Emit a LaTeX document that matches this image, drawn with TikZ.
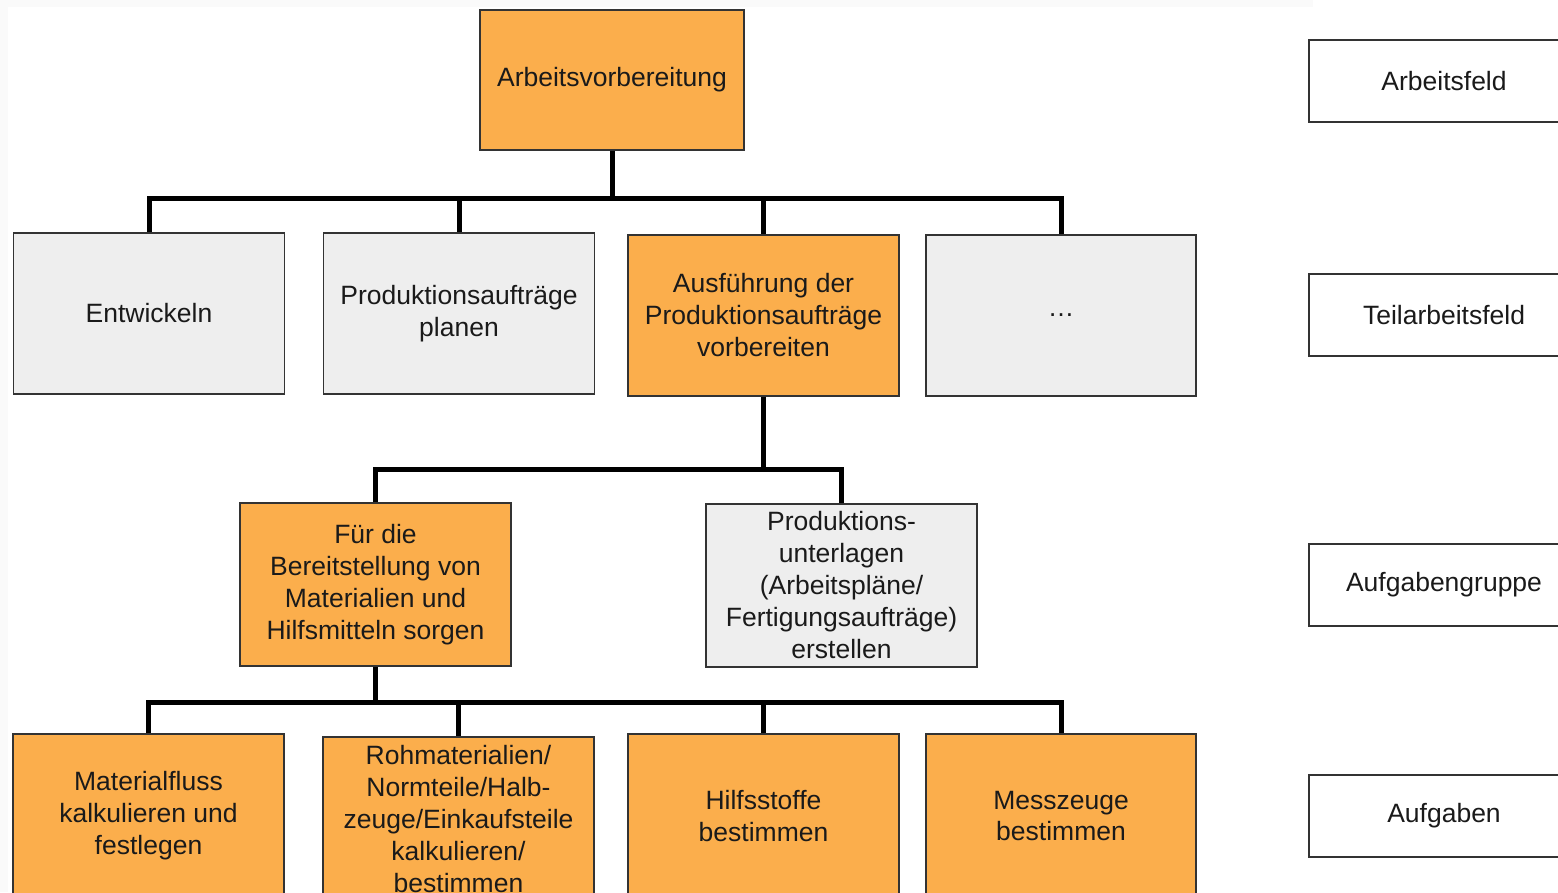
\documentclass[tikz,border=0pt]{standalone}
\usepackage{fontspec}
\setmainfont{Liberation Sans}
\definecolor{orangefill}{HTML}{FBAE4C}
\definecolor{greyfill}{HTML}{EEEEEE}
\definecolor{boxdraw}{HTML}{333333}
\definecolor{txt}{HTML}{1A1A1A}
\definecolor{frame}{HTML}{FAFAFA}
\begin{document}
\begin{tikzpicture}[x=1pt,y=-1pt,
  box/.style={draw=boxdraw, line width=1.6pt, align=center, inner sep=0pt,
    minimum width=271pt, minimum height=161pt, text=txt,
    font=\fontsize{26.5}{32}\selectfont},
  orangebox/.style={box, fill=orangefill},
  greybox/.style={box, fill=greyfill},
  levelbox/.style={box, fill=white, minimum width=270pt, minimum height=82pt},
  conn/.style={draw=black, line width=5pt}]
\useasboundingbox (0,0) rectangle (1558,892);
\clip (0,0) rectangle (1558,892);
\fill[frame] (0,0) rectangle (1558,892);
\fill[white] (8,7) rectangle (1558,892);
\fill[white] (1313,0) rectangle (1558,7);

% level 1
\node[orangebox, minimum width=264pt, minimum height=140pt] (top) at (612,80) {Arbeitsvorbereitung};

% level 2
\node[greybox] (a1) at (149,313.5) {Entwickeln};
\node[greybox] (a2) at (459,313.5) {Produktionsaufträge\\planen};
\node[orangebox] (a3) at (763.5,315.5) {Ausführung der\\Produktionsaufträge\\vorbereiten};
\node[greybox, minimum width=270pt] (a4) at (1061,315.5) {…};

% level 3
\node[orangebox, minimum height=163pt] (b1) at (375.5,584.5) {Für die\\Bereitstellung von\\Materialien und\\Hilfsmitteln sorgen};
\node[greybox, minimum height=163pt] (b2) at (841.5,585.5) {Produktions-\\unterlagen\\(Arbeitspläne/\\Fertigungsaufträge)\\erstellen};

% level 4
\node[orangebox, minimum height=164pt] (c1) at (148.5,816) {Materialfluss\\kalkulieren und\\festlegen};
\node[orangebox, minimum height=164pt] (c2) at (458.5,819) {Rohmaterialien/\\Normteile/Halb-\\zeuge/Einkaufsteile\\kalkulieren/\\bestimmen};
\node[orangebox, minimum height=164pt] (c3) at (763.5,816) {Hilfsstoffe\\bestimmen};
\node[orangebox, minimum width=270pt, minimum height=164pt] (c4) at (1061,816) {Messzeuge\\bestimmen};

% level labels
\node[levelbox] (l1) at (1444,81) {Arbeitsfeld};
\node[levelbox] (l2) at (1444,315) {Teilarbeitsfeld};
\node[levelbox] (l3) at (1444,585) {Aufgabengruppe};
\node[levelbox] (l4) at (1444,816) {Aufgaben};

% connectors
\coordinate (bus1) at (612,198);
\coordinate (bus2) at (763.5,469);
\coordinate (bus3) at (375.5,702);

\draw[conn] (top.south) -- (bus1);
\draw[conn] (a1.north) |- (bus1) -| (a4.north);
\draw[conn] (bus1) -| (a2.north);
\draw[conn] (bus1) -| (a3.north);

\draw[conn] (a3.south) -- (bus2);
\draw[conn] (b1.north) |- (bus2) -| (b2.north);

\draw[conn] (b1.south) -- (bus3);
\draw[conn] (c1.north) |- (bus3) -| (c4.north);
\draw[conn] (bus3) -| (c2.north);
\draw[conn] (bus3) -| (c3.north);
\end{tikzpicture}
\end{document}
